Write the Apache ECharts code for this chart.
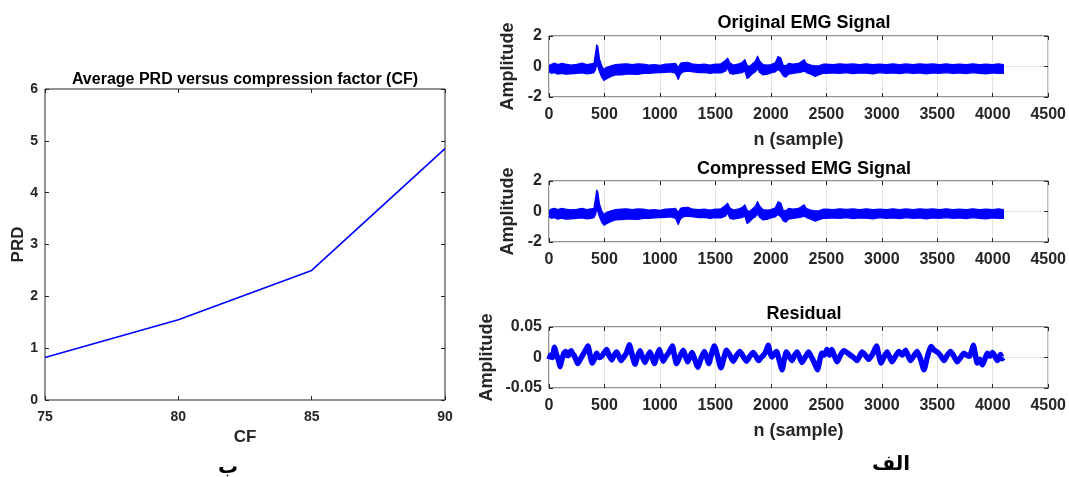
<!DOCTYPE html>
<html>
<head>
<meta charset="utf-8">
<script src="https://cdn.jsdelivr.net/npm/echarts@6/dist/echarts.min.js"></script>
<style>
  html, body { margin: 0; padding: 0; background: #fff; }
  #main { width: 1069px; height: 477px; }
</style>
</head>
<body>
<div id="main"></div>
<script>
// PRD vs CF
var cfValues = [75, 80, 85, 90]
var prdValues = [0.82, 1.55, 2.5, 4.85]

// EMG bands: [sample, top of band, bottom of band]
var originalEmg = [
  [0, 0.05, -0.35], [20, 0.15, -0.45], [50, 0.22, -0.40], [80, 0.12, -0.50], [110, 0.20, -0.45],
  [150, 0.15, -0.50], [200, 0.10, -0.48], [250, 0.14, -0.45], [300, 0.22, -0.42], [340, 0.12, -0.48],
  [380, 0.18, -0.45], [405, 0.20, -0.40], [420, 0.90, -0.20], [430, 1.42, 0.20], [440, 1.30, 0.00],
  [455, 0.50, -0.35], [475, 0.05, -0.70], [495, -0.20, -0.92], [520, -0.05, -0.80], [560, 0.05, -0.65],
  [600, 0.12, -0.55], [650, 0.15, -0.55], [700, 0.18, -0.50], [750, 0.12, -0.50], [800, 0.18, -0.52],
  [850, 0.15, -0.45], [900, 0.10, -0.45], [950, 0.12, -0.42], [1000, 0.08, -0.40], [1050, 0.15, -0.38],
  [1100, 0.18, -0.35], [1140, 0.20, -0.45], [1165, -0.05, -0.85], [1185, 0.20, -0.50], [1210, 0.25, -0.35],
  [1250, 0.28, -0.30], [1300, 0.15, -0.35], [1350, 0.12, -0.40], [1400, 0.15, -0.38], [1450, 0.10, -0.45],
  [1500, 0.15, -0.40], [1550, 0.18, -0.42], [1590, 0.40, -0.30], [1610, 0.55, -0.10], [1630, 0.25, -0.45],
  [1660, 0.10, -0.50], [1700, 0.15, -0.45], [1740, 0.25, -0.40], [1765, 0.45, -0.30], [1785, 0.10, -0.78],
  [1805, 0.00, -0.70], [1830, 0.15, -0.50], [1860, 0.35, -0.35], [1880, 0.68, -0.15], [1900, 0.35, -0.40],
  [1930, 0.12, -0.55], [1970, 0.10, -0.50], [2000, 0.12, -0.42], [2040, 0.25, -0.35], [2065, 0.65, -0.20],
  [2090, 0.55, -0.35], [2110, 0.10, -0.60], [2135, 0.05, -0.70], [2160, 0.20, -0.50], [2200, 0.15, -0.45],
  [2250, 0.20, -0.40], [2280, 0.35, -0.35], [2300, 0.45, -0.30], [2320, 0.20, -0.40], [2360, 0.10, -0.50],
  [2400, 0.05, -0.65], [2430, 0.05, -0.55], [2470, 0.15, -0.45], [2500, 0.16, -0.45], [2560, 0.12, -0.42],
  [2620, 0.18, -0.46], [2680, 0.14, -0.40], [2740, 0.17, -0.47], [2800, 0.12, -0.42], [2860, 0.18, -0.44],
  [2920, 0.13, -0.48], [2980, 0.16, -0.40], [3040, 0.12, -0.45], [3100, 0.18, -0.42], [3160, 0.13, -0.47],
  [3220, 0.17, -0.41], [3280, 0.12, -0.46], [3340, 0.18, -0.42], [3400, 0.14, -0.48], [3460, 0.17, -0.42],
  [3520, 0.12, -0.45], [3580, 0.18, -0.40], [3640, 0.13, -0.46], [3700, 0.16, -0.42], [3760, 0.12, -0.47],
  [3820, 0.18, -0.41], [3880, 0.13, -0.45], [3940, 0.16, -0.48], [4000, 0.12, -0.42], [4050, 0.18, -0.46],
  [4096, 0.12, -0.45]
]

var compressedEmg = [
  [0, 0.05, -0.35], [20, 0.16, -0.45], [50, 0.21, -0.41], [80, 0.12, -0.50], [110, 0.20, -0.44],
  [150, 0.15, -0.50], [200, 0.11, -0.48], [250, 0.14, -0.45], [300, 0.21, -0.42], [340, 0.12, -0.48],
  [380, 0.18, -0.45], [405, 0.20, -0.40], [420, 0.90, -0.20], [430, 1.40, 0.20], [440, 1.28, 0.00],
  [455, 0.50, -0.35], [475, 0.05, -0.70], [495, -0.20, -0.90], [520, -0.05, -0.80], [560, 0.05, -0.65],
  [600, 0.12, -0.55], [650, 0.15, -0.54], [700, 0.18, -0.50], [750, 0.12, -0.50], [800, 0.17, -0.52],
  [850, 0.15, -0.45], [900, 0.10, -0.45], [950, 0.12, -0.42], [1000, 0.08, -0.40], [1050, 0.15, -0.38],
  [1100, 0.18, -0.35], [1140, 0.20, -0.45], [1165, -0.05, -0.85], [1185, 0.20, -0.50], [1210, 0.25, -0.35],
  [1250, 0.28, -0.30], [1300, 0.15, -0.35], [1350, 0.12, -0.40], [1400, 0.15, -0.38], [1450, 0.10, -0.45],
  [1500, 0.15, -0.40], [1550, 0.18, -0.42], [1590, 0.40, -0.30], [1610, 0.54, -0.10], [1630, 0.25, -0.45],
  [1660, 0.10, -0.50], [1700, 0.15, -0.45], [1740, 0.25, -0.40], [1765, 0.44, -0.30], [1785, 0.10, -0.78],
  [1805, 0.00, -0.70], [1830, 0.15, -0.50], [1860, 0.35, -0.35], [1880, 0.66, -0.15], [1900, 0.35, -0.40],
  [1930, 0.12, -0.55], [1970, 0.10, -0.50], [2000, 0.12, -0.42], [2040, 0.25, -0.35], [2065, 0.64, -0.20],
  [2090, 0.55, -0.35], [2110, 0.10, -0.60], [2135, 0.05, -0.70], [2160, 0.20, -0.50], [2200, 0.15, -0.45],
  [2250, 0.20, -0.40], [2280, 0.35, -0.35], [2300, 0.44, -0.30], [2320, 0.20, -0.40], [2360, 0.10, -0.50],
  [2400, 0.05, -0.64], [2430, 0.05, -0.55], [2470, 0.15, -0.45], [2500, 0.16, -0.45], [2560, 0.12, -0.42],
  [2620, 0.18, -0.46], [2680, 0.14, -0.40], [2740, 0.17, -0.47], [2800, 0.12, -0.42], [2860, 0.18, -0.44],
  [2920, 0.13, -0.48], [2980, 0.16, -0.40], [3040, 0.12, -0.45], [3100, 0.18, -0.42], [3160, 0.13, -0.47],
  [3220, 0.17, -0.41], [3280, 0.12, -0.46], [3340, 0.18, -0.42], [3400, 0.14, -0.48], [3460, 0.17, -0.42],
  [3520, 0.12, -0.45], [3580, 0.18, -0.40], [3640, 0.13, -0.46], [3700, 0.16, -0.42], [3760, 0.12, -0.47],
  [3820, 0.18, -0.41], [3880, 0.13, -0.45], [3940, 0.16, -0.48], [4000, 0.12, -0.42], [4050, 0.18, -0.46],
  [4096, 0.12, -0.45]
]

// residual: [sample, value]
var residual = [
  [0, -0.003], [15, 0.004], [30, 0.000], [50, 0.017], [62, 0.008], [75, 0.001], [88, -0.006], [100, -0.015],
  [112, -0.006], [125, 0.002], [138, 0.008], [150, 0.010], [162, 0.004], [175, 0.003], [188, 0.009], [200, 0.011],
  [212, 0.006], [225, 0.004], [242, -0.003], [260, -0.010], [285, -0.002], [310, 0.006], [330, 0.012], [350, 0.019],
  [370, 0.004], [390, -0.009], [410, -0.002], [430, 0.007], [452, 0.000], [475, 0.002], [498, 0.008], [520, 0.013],
  [542, 0.003], [565, -0.004], [588, 0.004], [610, 0.009], [630, 0.002], [650, -0.005], [675, 0.001], [700, 0.008],
  [724, 0.021], [750, 0.004], [775, -0.011], [798, 0.002], [820, 0.011], [842, 0.001], [865, -0.008], [888, 0.002],
  [910, 0.009], [930, 0.000], [950, -0.010], [972, 0.003], [995, 0.013], [1012, 0.003], [1030, -0.006], [1055, 0.002],
  [1080, 0.008], [1112, 0.019], [1130, 0.004], [1150, -0.010], [1180, 0.002], [1210, 0.012], [1230, 0.002], [1250, -0.007],
  [1270, 0.001], [1290, 0.008], [1315, -0.004], [1341, -0.016], [1370, -0.002], [1400, 0.010], [1420, 0.001], [1440, -0.010],
  [1465, 0.006], [1490, 0.019], [1520, 0.002], [1550, -0.017], [1575, -0.002], [1600, 0.012], [1630, 0.004], [1660, -0.006],
  [1690, 0.003], [1720, 0.010], [1750, 0.002], [1780, -0.006], [1810, 0.002], [1840, 0.008], [1865, 0.002], [1890, -0.005],
  [1912, 0.000], [1935, 0.004], [1955, 0.010], [1976, 0.020], [1992, 0.008], [2010, 0.001], [2030, 0.006], [2050, 0.010],
  [2075, -0.004], [2101, -0.020], [2120, -0.004], [2140, 0.009], [2165, 0.002], [2190, -0.005], [2212, 0.003], [2235, 0.009],
  [2258, 0.001], [2280, -0.008], [2310, 0.001], [2340, 0.009], [2362, 0.002], [2385, -0.006], [2420, -0.020], [2440, -0.005],
  [2460, 0.007], [2482, 0.004], [2506, 0.013], [2530, 0.004], [2550, 0.013], [2572, 0.003], [2596, -0.007], [2625, 0.003],
  [2657, 0.011], [2687, 0.008], [2717, 0.004], [2747, 0.000], [2777, -0.005], [2800, 0.002], [2822, 0.009], [2852, 0.004],
  [2882, -0.003], [2918, 0.006], [2952, 0.019], [2972, 0.004], [2994, -0.009], [3020, 0.001], [3048, 0.009], [3070, 0.001],
  [3093, -0.007], [3123, 0.002], [3154, 0.010], [3185, 0.004], [3214, 0.012], [3237, 0.003], [3259, -0.005], [3290, 0.003],
  [3319, 0.010], [3350, -0.003], [3380, -0.020], [3412, 0.002], [3446, 0.018], [3473, 0.012], [3500, 0.009], [3530, 0.003],
  [3560, -0.005], [3590, 0.004], [3620, 0.010], [3650, 0.002], [3680, -0.007], [3710, 0.000], [3741, 0.007], [3765, 0.004],
  [3790, 0.002], [3808, 0.010], [3825, 0.020], [3843, 0.005], [3861, -0.009], [3884, -0.003], [3907, -0.012], [3930, -0.002],
  [3952, 0.007], [3975, 0.002], [3997, 0.008], [4020, 0.002], [4042, -0.005], [4057, 0.000], [4070, 0.005], [4084, -0.002],
  [4096, 0.000]
]

var titles = ['Average PRD versus compression factor (CF)', 'Original EMG Signal', 'Compressed EMG Signal', 'Residual']

var FONT = 'Liberation Sans'
var AXIS_COLOR = '#262626'
var BLUE = '#0000ff'

var mychart = echarts.init(document.getElementById('main'), null, { renderer: 'canvas' })

// grids: left PRD plot, then three stacked signal plots
var grids = [
  { left: 45, top: 89, width: 400, height: 311 },
  { left: 549, top: 36, width: 500, height: 61 },
  { left: 549, top: 181, width: 500, height: 61 },
  { left: 549, top: 327, width: 500, height: 61 }
]
grids.forEach(g => {
  g.show = true
  g.borderColor = AXIS_COLOR
  g.borderWidth = 1
  g.backgroundColor = '#fff'
})

var plainNum = v => String(v)

function labelStyle(size, margin) {
  return { color: AXIS_COLOR, fontFamily: FONT, fontWeight: 'bold', fontSize: size, margin: margin, formatter: plainNum }
}
function nameStyle(size) {
  return { color: AXIS_COLOR, fontFamily: FONT, fontWeight: 'bold', fontSize: size }
}

function mainAxis(gi, opt, grid) {
  return Object.assign({
    gridIndex: gi,
    type: 'value',
    axisLine: { show: false, onZero: false },
    axisTick: { show: true, inside: true, length: 4, lineStyle: { color: AXIS_COLOR } },
    splitLine: { show: grid, lineStyle: { color: '#e3e3e3', width: 1 } },
    nameLocation: 'middle'
  }, opt)
}
// mirrored ticks on top / right, no labels
function mirrorAxis(gi, opt) {
  return Object.assign({
    gridIndex: gi,
    type: 'value',
    axisLine: { show: false, onZero: false },
    axisTick: { show: true, inside: true, length: 4, lineStyle: { color: AXIS_COLOR } },
    axisLabel: { show: false },
    splitLine: { show: false }
  }, opt)
}

var xAxes = [], yAxes = []
// left plot
xAxes.push(mainAxis(0, { min: 75, max: 90, interval: 5, name: 'CF', nameGap: 29,
  axisLabel: labelStyle(14, 10), nameTextStyle: nameStyle(17) }, false))
yAxes.push(mainAxis(0, { min: 0, max: 6, interval: 1, name: 'PRD', nameGap: 18,
  axisLabel: labelStyle(14, 7), nameTextStyle: nameStyle(17) }, false))
// signal plots
for (var i = 1; i <= 3; i++) {
  xAxes.push(mainAxis(i, { min: 0, max: 4500, interval: 500, name: i === 2 ? '' : 'n (sample)', nameGap: 34,
    axisLabel: labelStyle(16, 10), nameTextStyle: nameStyle(18) }, true))
  var ymax = i === 3 ? 0.05 : 2
  yAxes.push(mainAxis(i, { min: -ymax, max: ymax, interval: ymax, name: 'Amplitude', nameGap: i === 3 ? 53 : 32,
    axisLabel: labelStyle(16, 7), nameTextStyle: nameStyle(18) }, true))
}
// mirrored axes
xAxes.push(mirrorAxis(0, { position: 'top', min: 75, max: 90, interval: 5 }))
yAxes.push(mirrorAxis(0, { position: 'right', min: 0, max: 6, interval: 1 }))
for (var j = 1; j <= 3; j++) {
  var ym = j === 3 ? 0.05 : 2
  xAxes.push(mirrorAxis(j, { position: 'top', min: 0, max: 4500, interval: 500 }))
  yAxes.push(mirrorAxis(j, { position: 'right', min: -ym, max: ym, interval: ym }))
}

// draws a filled band from [n, top, bottom] rows
function bandRenderer(rows) {
  return (params, api) => {
    if (params.dataIndex !== 0) return
    var pts = []
    rows.forEach(r => pts.push(api.coord([r[0], r[1]])))
    for (var k = rows.length - 1; k >= 0; k--) pts.push(api.coord([rows[k][0], rows[k][2]]))
    return {
      type: 'polygon',
      shape: { points: pts },
      style: { fill: BLUE, stroke: BLUE, lineWidth: 1.2, lineJoin: 'round' }
    }
  }
}

var titleStyle = size => ({ fontFamily: FONT, fontWeight: 'bold', fontSize: size, color: '#000' })

var option = {
  animation: false,
  backgroundColor: '#fff',
  title: [
    { text: titles[0], left: 240, top: 67, textAlign: 'center', textStyle: titleStyle(16) },
    { text: titles[1], left: 799, top: 9, textAlign: 'center', textStyle: titleStyle(18) },
    { text: titles[2], left: 799, top: 155, textAlign: 'center', textStyle: titleStyle(18) },
    { text: titles[3], left: 799, top: 300, textAlign: 'center', textStyle: titleStyle(18) }
  ],
  grid: grids,
  xAxis: xAxes,
  yAxis: yAxes,
  series: [
    {
      type: 'line', xAxisIndex: 0, yAxisIndex: 0,
      data: cfValues.map((c, k) => [c, prdValues[k]]),
      showSymbol: false, lineStyle: { color: BLUE, width: 1.6 }, itemStyle: { color: BLUE }
    },
    {
      type: 'custom', xAxisIndex: 1, yAxisIndex: 1,
      data: originalEmg, encode: { x: 0, y: [1, 2] },
      renderItem: bandRenderer(originalEmg), clip: true
    },
    {
      type: 'custom', xAxisIndex: 2, yAxisIndex: 2,
      data: compressedEmg, encode: { x: 0, y: [1, 2] },
      renderItem: bandRenderer(compressedEmg), clip: true
    },
    {
      type: 'line', xAxisIndex: 3, yAxisIndex: 3,
      data: residual, showSymbol: false, smooth: 0.2,
      lineStyle: { color: BLUE, width: 5.5, join: 'round' }, itemStyle: { color: BLUE }
    }
  ],
  graphic: [
    { type: 'text', left: 218, top: 458,
      style: { text: 'ب', font: 'bold 20px "DejaVu Sans"', fill: '#000' } },
    { type: 'text', left: 872, top: 455,
      style: { text: 'الف', font: 'bold 20px "DejaVu Sans"', fill: '#000' } }
  ]
}

mychart.setOption(option)
</script>
</body>
</html>
